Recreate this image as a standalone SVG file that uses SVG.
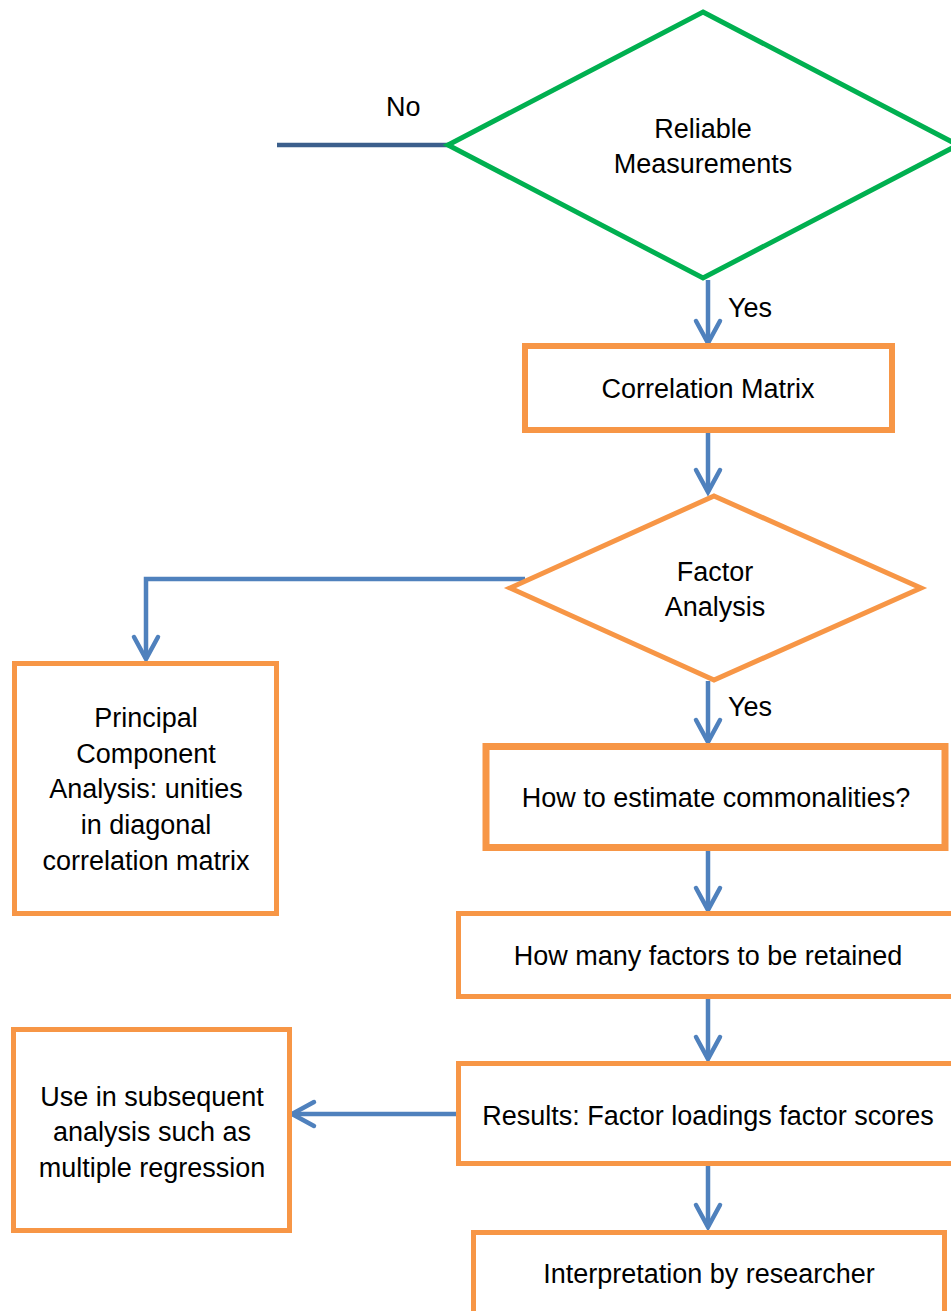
<svg xmlns="http://www.w3.org/2000/svg" width="951" height="1311" viewBox="0 0 951 1311">
  <style>
    text { font-family: "Liberation Sans", Arial, sans-serif; font-size: 27px; fill: #000; }
    .c { text-anchor: middle; }
    .box { fill: #fff; stroke: #f79646; stroke-width: 5; }
    .thick { stroke-width: 7; }
    .dia-g { fill: #fff; stroke: #00b050; stroke-width: 5; }
    .dia-o { fill: #fff; stroke: #f79646; stroke-width: 5; }
    .flow { fill: none; stroke: #4f81bd; stroke-width: 4.5; }
    .no { fill: none; stroke: #3b5f8c; stroke-width: 4.5; }
  </style>
  <defs>
    <marker id="chev" markerUnits="userSpaceOnUse" markerWidth="40" markerHeight="40" viewBox="-30 -20 40 40" refX="0" refY="0" orient="auto" overflow="visible">
      <path d="M -22 -12 L 0 0 L -22 12" fill="none" stroke="#4f81bd" stroke-width="4.5" stroke-linecap="round" stroke-linejoin="miter"/>
    </marker>
  </defs>
  <rect width="951" height="1311" fill="#fff"/>

  <!-- connectors -->
  <g id="connectors">
    <line class="no" x1="277" y1="145" x2="448" y2="145"/>
    <line class="flow" x1="708" y1="280" x2="708" y2="343" marker-end="url(#chev)"/>
    <line class="flow" x1="708" y1="433" x2="708" y2="492" marker-end="url(#chev)"/>
    <path class="flow" d="M 525 579 L 146 579 L 146 659" marker-end="url(#chev)"/>
    <line class="flow" x1="708" y1="681" x2="708" y2="742" marker-end="url(#chev)"/>
    <line class="flow" x1="708" y1="851" x2="708" y2="910" marker-end="url(#chev)"/>
    <line class="flow" x1="708" y1="999" x2="708" y2="1059" marker-end="url(#chev)"/>
    <line class="flow" x1="459" y1="1114" x2="292" y2="1114" marker-end="url(#chev)"/>
    <line class="flow" x1="708" y1="1166" x2="708" y2="1227" marker-end="url(#chev)"/>
    <text x="386" y="116">No</text>
    <text x="728" y="317">Yes</text>
    <text x="728" y="716">Yes</text>
  </g>

  <!-- decision: reliable measurements -->
  <g id="reliable">
    <polygon class="dia-g" points="703,12 958,145 703,278 448,145"/>
    <text class="c" x="703" y="138">Reliable</text>
    <text class="c" x="703" y="173">Measurements</text>
  </g>

  <g id="correlation">
    <rect class="box" x="525" y="346" width="367" height="84" style="stroke-width:6"/>
    <text class="c" x="708" y="398">Correlation Matrix</text>
  </g>

  <!-- decision: factor analysis -->
  <g id="factor">
    <polygon class="dia-o" points="714,496 921,588 714,680 510,588"/>
    <text class="c" x="715" y="581">Factor</text>
    <text class="c" x="715" y="616">Analysis</text>
  </g>

  <g id="pca">
    <rect class="box" x="14.5" y="663.5" width="262" height="250"/>
    <text class="c" x="146" y="727">Principal</text>
    <text class="c" x="146" y="763">Component</text>
    <text class="c" x="146" y="798">Analysis: unities</text>
    <text class="c" x="146" y="834">in diagonal</text>
    <text class="c" x="146" y="870">correlation matrix</text>
  </g>

  <g id="commonalities">
    <rect class="box thick" x="486" y="746.5" width="459" height="101"/>
    <text class="c" x="716" y="807">How to estimate commonalities?</text>
  </g>

  <g id="retained">
    <rect class="box" x="458.5" y="913.5" width="500" height="83"/>
    <text class="c" x="708" y="965">How many factors to be retained</text>
  </g>

  <g id="results">
    <rect class="box" x="458.5" y="1063.5" width="500" height="100"/>
    <text class="c" x="708" y="1125">Results: Factor loadings factor scores</text>
  </g>

  <g id="subsequent">
    <rect class="box" x="13.5" y="1029.5" width="276" height="201"/>
    <text class="c" x="152" y="1106">Use in subsequent</text>
    <text class="c" x="152" y="1141">analysis such as</text>
    <text class="c" x="152" y="1177">multiple regression</text>
  </g>

  <g id="interpretation">
    <rect class="box" x="473.5" y="1232.5" width="471" height="100"/>
    <text class="c" x="709" y="1283">Interpretation by researcher</text>
  </g>
</svg>
